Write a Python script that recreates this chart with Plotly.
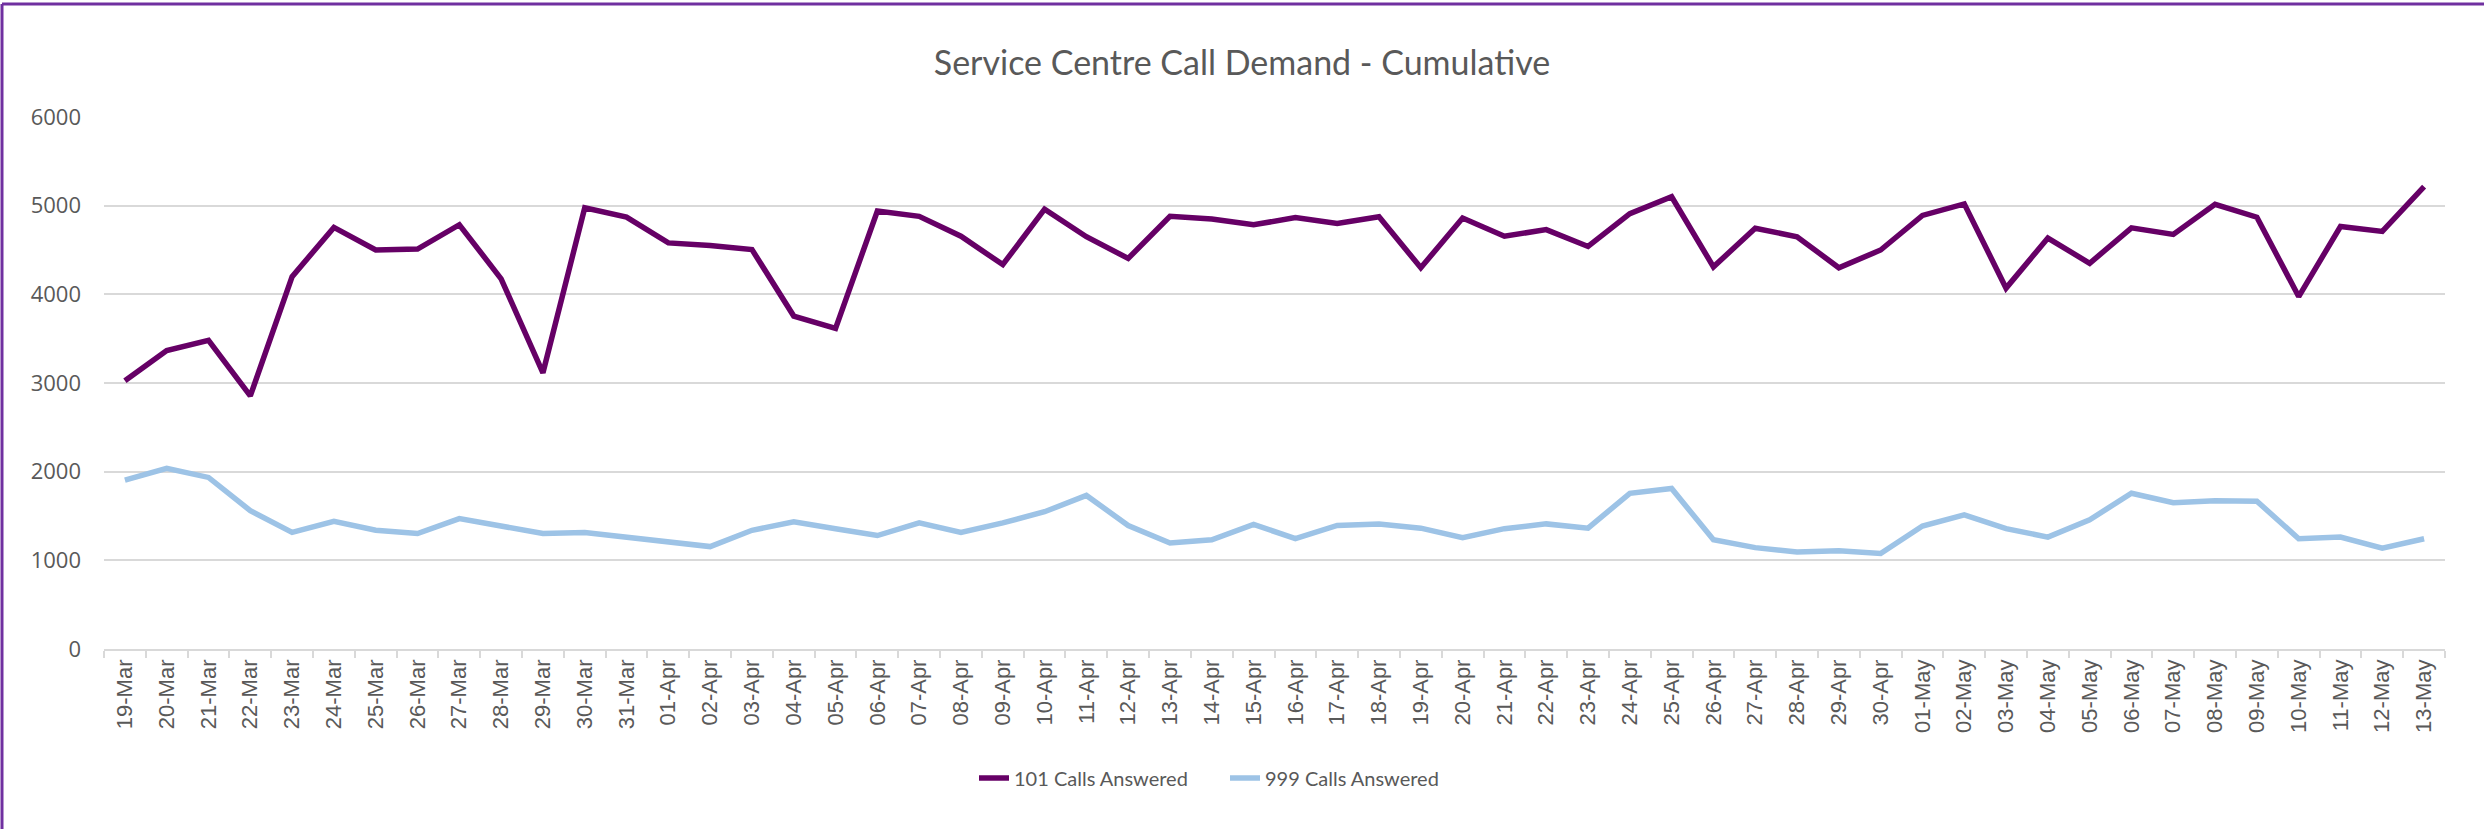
import plotly.graph_objects as go

# dates as shown on the category axis
dates = (["%02d-Mar" % d for d in range(19, 32)]
         + ["%02d-Apr" % d for d in range(1, 31)]
         + ["%02d-May" % d for d in range(1, 14)])

calls_101 = [3025, 3365, 3480, 2855, 4200, 4755, 4500, 4510, 4785, 4175,
             3115, 4975, 4870, 4580, 4550, 4505, 3755, 3615, 4940, 4880,
             4655, 4335, 4960, 4650, 4405, 4880, 4850, 4785, 4865, 4800,
             4875, 4300, 4860, 4655, 4730, 4540, 4910, 5100, 4310, 4745,
             4650, 4300, 4500, 4890, 5020, 4070, 4635, 4350, 4750, 4675,
             5015, 4870, 3975, 4765, 4710, 5215]

calls_999 = [1905, 2038, 1935, 1560, 1315, 1440, 1339, 1303, 1470, 1393,
             1303, 1315, 1262, 1208, 1155, 1339, 1434, 1357, 1280, 1423,
             1315, 1423, 1548, 1732, 1393, 1196, 1232, 1405, 1244, 1393,
             1411, 1363, 1256, 1357, 1411, 1363, 1756, 1810, 1232, 1143,
             1095, 1107, 1077, 1387, 1512, 1357, 1262, 1458, 1756, 1649,
             1673, 1667, 1244, 1262, 1137, 1244]

W, H = 2484, 829
L, R, T, B = 104, 39, 117, 180
pw, ph = W - L - R, H - T - B

grey = "#595959"
fig = go.Figure()
fig.add_trace(go.Scatter(x=dates, y=calls_101, mode="lines", name="101 Calls Answered",
                         line=dict(color="#660066", width=5.5)))
fig.add_trace(go.Scatter(x=dates, y=calls_999, mode="lines", name="999 Calls Answered",
                         line=dict(color="#9DC3E6", width=5.5)))

fig.update_layout(
    width=W, height=H,
    margin=dict(l=L, r=R, t=T, b=B, autoexpand=False),
    paper_bgcolor="white", plot_bgcolor="white",
    title=dict(text="Service Centre Call Demand - Cumulative", x=0.5, xref="container",
               y=1 - 63 / H, yanchor="middle",
               font=dict(family="Lato", size=34, color=grey)),
    showlegend=True,
    legend=dict(orientation="h", x=(974 - L) / pw, xanchor="left",
                y=(649 - 778) / ph, yanchor="middle",
                font=dict(family="Lato", size=20, color=grey),
                entrywidth=206, bgcolor="rgba(0,0,0,0)"),
)
fig.update_xaxes(type="category", range=[-0.5, len(dates) - 0.5],
                 tickson="boundaries", ticks="outside", ticklen=7,
                 tickcolor="#D9D9D9", tickwidth=1.5, showline=True, linecolor="#D9D9D9",
                 linewidth=1.5, showgrid=False, tickangle=-90, automargin=False,
                 tickfont=dict(family="Liberation Sans", size=22, color=grey))
fig.update_yaxes(range=[0, 6000], dtick=1000, showgrid=True, gridcolor="#D9D9D9",
                 gridwidth=1.5, zeroline=False, ticks="", ticklabelstandoff=22,
                 automargin=False,
                 tickfont=dict(family="Open Sans", size=22, color=grey))

# purple chart-area frame (top and left edges visible)
border = "#7030A0"
fig.add_shape(type="line", xref="paper", yref="paper",
              x0=(2 - L) / pw, x1=(W - L) / pw, y0=(H - B - 4) / ph, y1=(H - B - 4) / ph,
              line=dict(color=border, width=3))
fig.add_shape(type="line", xref="paper", yref="paper",
              x0=(2 - L) / pw, x1=(2 - L) / pw, y0=(H - B - 4) / ph, y1=-B / ph,
              line=dict(color=border, width=3))

# drop the default page margin so the figure sits at the window's corner
fig.write_html("out.html", config={"displayModeBar": False},
               post_script="document.body.style.margin='0';")
